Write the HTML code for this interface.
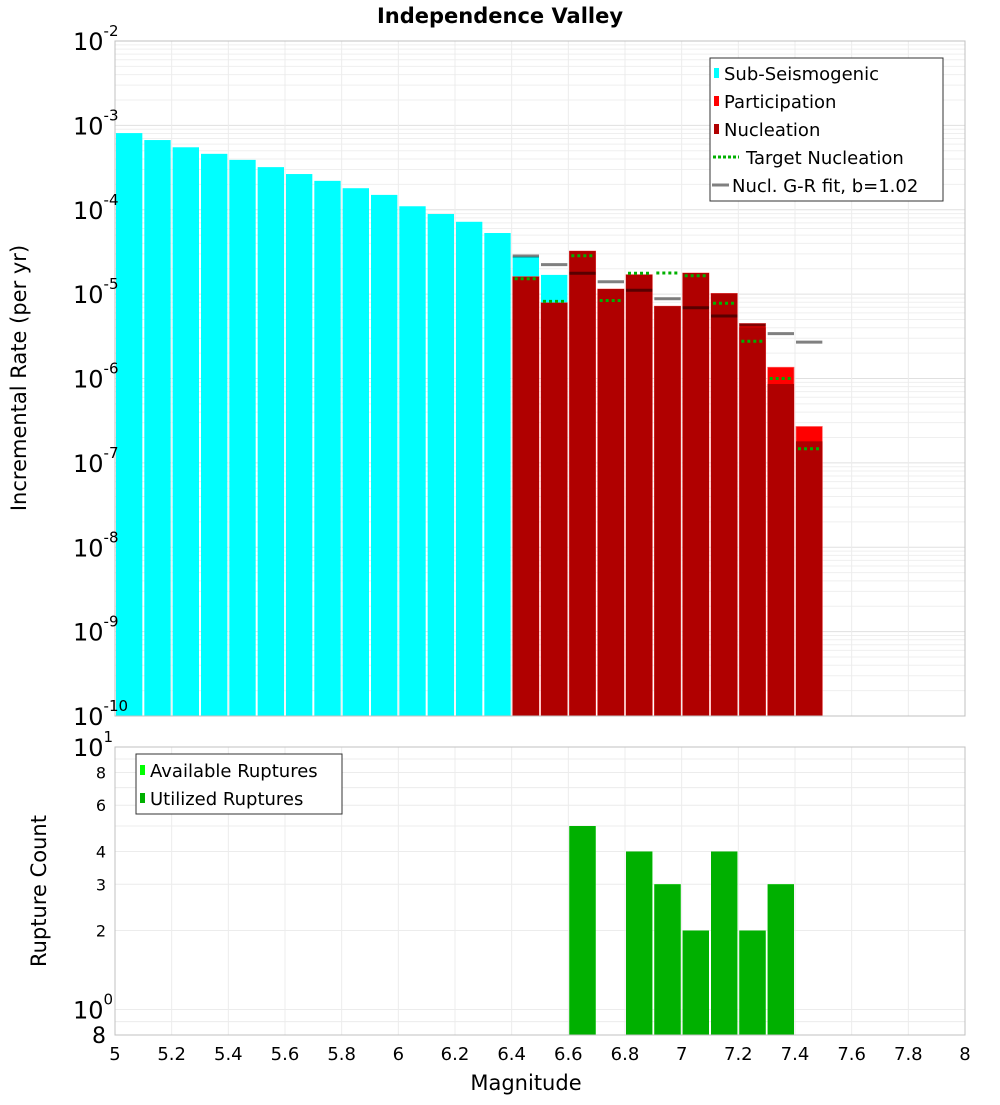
<!DOCTYPE html>
<html><head><meta charset="utf-8"><style>
body{margin:0;background:#fff}
svg{font-family:"DejaVu Sans","Liberation Sans",sans-serif}
</style></head><body>
<svg id="c" width="1000" height="1100" xmlns="http://www.w3.org/2000/svg"></svg>
<script>
const subMags=[5.05,5.15,5.25,5.35,5.45,5.55,5.65,5.75,5.85,5.95,6.05,6.15,6.25,6.35,6.45,6.55];
const subRates=[8.1e-4,6.7e-4,5.5e-4,4.6e-4,3.9e-4,3.2e-4,2.65e-4,2.2e-4,1.8e-4,1.5e-4,1.1e-4,8.9e-5,7.2e-5,5.3e-5,2.78e-5,1.69e-5];
const supMags=[6.45,6.55,6.65,6.75,6.85,6.95,7.05,7.15,7.25,7.35,7.45];
const partRates=[1.61e-5,7.9e-6,3.24e-5,1.15e-5,1.70e-5,7.2e-6,1.78e-5,1.02e-5,4.5e-6,1.36e-6,2.7e-7];
const nuclRates=[1.61e-5,7.9e-6,3.24e-5,1.15e-5,1.70e-5,7.2e-6,1.78e-5,1.02e-5,4.05e-6,8.6e-7,1.8e-7];
const targetRates=[1.52e-5,8.2e-6,2.85e-5,8.4e-6,1.77e-5,1.78e-5,1.65e-5,7.8e-6,2.76e-6,1.0e-6,1.47e-7];
const grRates=[2.83e-5,2.24e-5,1.77e-5,1.40e-5,1.11e-5,8.8e-6,6.9e-6,5.5e-6,4.3e-6,3.4e-6,2.7e-6];
const countMags=[6.65,6.85,6.95,7.05,7.15,7.25,7.35];
const availCounts=[5,4,3,2,4,2,3];
const usedCounts=[5,4,3,2,4,2,3];
const xTicks=[5,5.2,5.4,5.6,5.8,6,6.2,6.4,6.6,6.8,7,7.2,7.4,7.6,7.8,8];
const yDecades=[-10,-9,-8,-7,-6,-5,-4,-3,-2];

const svg=document.getElementById('c');
const NS='http://www.w3.org/2000/svg';
function mk(tag,attrs,parent){const e=document.createElementNS(NS,tag);for(const k in attrs)e.setAttribute(k,attrs[k]);(parent||svg).appendChild(e);return e;}
const X0=115,X1=965;
const x=m=>X0+(m-5)/3*(X1-X0);
const T0=41,T1=716;
const yT=v=>T0+(-2-Math.log10(v))/8*(T1-T0);
const B0=747,B1=1035;
const dec=(B1-B0)/(1-Math.log10(0.8));
const yB=v=>B0+(1-Math.log10(v))*dec;
const bw=(x(5.1)-x(5))-2;

// grids
const g=mk('g',{});
for(let d=-10;d<-2;d++)for(let k=1;k<10;k++){const yy=yT(k*Math.pow(10,d));mk('line',{x1:X0,x2:X1,y1:yy,y2:yy,stroke:k==1?'#e0e0e0':'#efefef','stroke-width':1},g);}
[0.8,0.9,1,2,3,4,5,6,7,8,9,10].forEach(v=>{const yy=yB(v);mk('line',{x1:X0,x2:X1,y1:yy,y2:yy,stroke:'#ececec'},g);});
xTicks.forEach(t=>{mk('line',{x1:x(t),x2:x(t),y1:T0,y2:T1,stroke:'#ececec'},g);mk('line',{x1:x(t),x2:x(t),y1:B0,y2:B1,stroke:'#ececec'},g);});

// sub-seismogenic bars
subMags.forEach((m,i)=>{const r=mk('rect',{x:x(m)-bw/2,y:yT(subRates[i]),width:bw,height:T1-yT(subRates[i]),fill:'#00ffff'});
});
supMags.forEach((m,i)=>{const r=mk('rect',{x:x(m)-bw/2,y:yT(partRates[i]),width:bw,height:T1-yT(partRates[i]),fill:'#ff0000',stroke:'#ff6060','stroke-width':0.7});
});
supMags.forEach((m,i)=>{const r=mk('rect',{x:x(m)-bw/2,y:yT(nuclRates[i]),width:bw,height:T1-yT(nuclRates[i]),fill:'#b00000'});
});
supMags.forEach((m,i)=>{const yy=yT(grRates[i]);const l=mk('line',{x1:x(m)-bw/2,x2:x(m)+bw/2,y1:yy,y2:yy,stroke:'#808080','stroke-width':3,style:'mix-blend-mode:multiply'});
});
supMags.forEach((m,i)=>{const yy=yT(targetRates[i]);const l=mk('line',{x1:x(m)-bw/2+2,x2:x(m)+bw/2-2,y1:yy,y2:yy,stroke:'#00b000','stroke-width':3,'stroke-dasharray':'3,3'});
});

// bottom bars
countMags.forEach((m,i)=>{const r=mk('rect',{x:x(m)-bw/2,y:yB(availCounts[i]),width:bw,height:B1-yB(availCounts[i]),fill:'#00ff00'});
});
countMags.forEach((m,i)=>{const r=mk('rect',{x:x(m)-bw/2,y:yB(usedCounts[i]),width:bw,height:B1-yB(usedCounts[i]),fill:'#00b000'});
});

// frames
mk('rect',{x:X0,y:T0,width:X1-X0,height:T1-T0,fill:'none',stroke:'#c0c0c0'});
mk('rect',{x:X0,y:B0,width:X1-X0,height:B1-B0,fill:'none',stroke:'#c0c0c0'});

// y labels top
yDecades.forEach(d=>{const t=mk('text',{x:73,y:yT(Math.pow(10,d))+9,'font-size':24,fill:'#000'});

t.textContent='10';const s=mk('tspan',{dy:-14,'font-size':15},t);s.textContent=String(d);});
// bottom y labels
[[10,'10','1'],[1,'10','0']].forEach(a=>{const t=mk('text',{x:73,y:yB(a[0])+9,'font-size':24});

t.textContent=a[1];const s=mk('tspan',{dy:-14,'font-size':15},t);s.textContent=a[2];});
[[2,'2'],[3,'3'],[4,'4'],[6,'6'],[8,'8']].forEach(a=>{const t=mk('text',{x:106,y:yB(a[0])+6,'font-size':16,'text-anchor':'end'});
t.textContent=a[1];});
{const t=mk('text',{x:106,y:yB(0.8)+8,'font-size':22,'text-anchor':'end'});t.textContent='8';}
// x labels
xTicks.forEach(t0=>{const t=mk('text',{x:x(t0),y:1060,'font-size':18,'text-anchor':'middle'});
t.textContent=String(t0);});

// titles
let t=mk('text',{x:500,y:23,'font-size':21,'font-weight':'bold','text-anchor':'middle'});t.textContent='Independence Valley';
t=mk('text',{x:526,y:1090,'font-size':21,'text-anchor':'middle'});t.textContent='Magnitude';
t=mk('text',{x:26,y:378,'font-size':21,'text-anchor':'middle',transform:'rotate(-90 26 378)'});t.textContent='Incremental Rate (per yr)';
t=mk('text',{x:46,y:891,'font-size':21,'text-anchor':'middle',transform:'rotate(-90 46 891)'});t.textContent='Rupture Count';

// legend top
const lg=mk('g',{});
mk('rect',{x:710,y:58,width:233,height:143,fill:'#fff',stroke:'#333'},lg);
const items=[['rect','#00ffff','Sub-Seismogenic'],['rect','#ff0000','Participation'],['rect','#b00000','Nucleation'],['dot','#00b000','Target Nucleation'],['line','#808080','Nucl. G-R fit, b=1.02']];
items.forEach((it,i)=>{const cy=73+i*28;const e=mk('g',{},lg);
let tx=724;
if(it[0]=='rect')mk('rect',{x:714,y:cy-5,width:5,height:10,fill:it[1]},e);
else if(it[0]=='dot'){mk('line',{x1:713,x2:739,y1:cy,y2:cy,stroke:it[1],'stroke-width':3,'stroke-dasharray':'3,2'},e);tx=746;}
else {mk('line',{x1:712,x2:729,y1:cy,y2:cy,stroke:it[1],'stroke-width':3},e);tx=732;}
const tt=mk('text',{x:tx,y:cy+7,'font-size':18},e);tt.textContent=it[2];});
// legend bottom
const lb=mk('g',{});
mk('rect',{x:136,y:754,width:206,height:60,fill:'#fff',stroke:'#333'},lb);
[['#00ff00','Available Ruptures'],['#00b000','Utilized Ruptures']].forEach((it,i)=>{const cy=770+i*28;const e=mk('g',{},lb);
mk('rect',{x:140,y:cy-5,width:5,height:10,fill:it[0]},e);const tt=mk('text',{x:150,y:cy+7,'font-size':18},e);tt.textContent=it[1];});
</script>
</body></html>
